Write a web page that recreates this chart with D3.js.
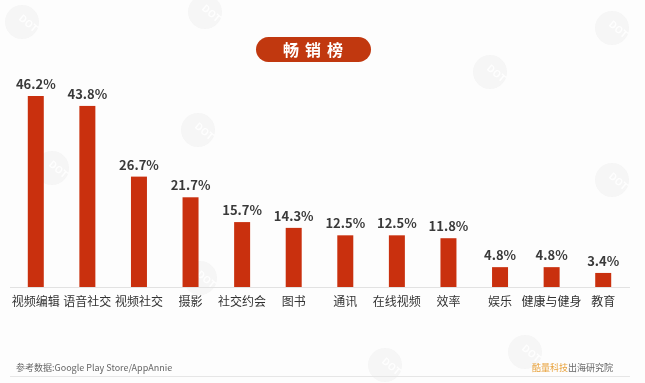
<!DOCTYPE html>
<html>
<head>
<meta charset="utf-8">
<script src="https://cdn.jsdelivr.net/npm/d3@7"></script>
<style>
  body { margin: 0; background: #fdfdfd; }
  svg { display: block; font-family: "Noto Sans CJK SC", "Noto Sans", sans-serif; }
</style>
</head>
<body>
<div id="chart"></div>
<script>
const categories = ['视频编辑', '语音社交', '视频社交', '摄影', '社交约会', '图书', '通讯', '在线视频', '效率', '娱乐', '健康与健身', '教育']
const shares = [46.2, 43.8, 26.7, 21.7, 15.7, 14.3, 12.5, 12.5, 11.8, 4.8, 4.8, 3.4]
const title = '畅销榜'
const source = '参考数据:Google Play Store/AppAnnie'

const width = 645, height = 383
const baseY = 287

const svg = d3.select('#chart').append('svg')
   .attr('width', width)
   .attr('height', height)

svg.append('rect').attr('width', width).attr('height', height).attr('fill', '#fdfdfd')

// faint watermarks
const marks = [[22, 22], [205, 12], [490, 72], [612, 28], [198, 130], [52, 168], [200, 278], [385, 365], [525, 352], [612, 180]]
const wm = svg.append('g').attr('opacity', 0.45)
marks.forEach(([x, y]) => {
   wm.append('circle').attr('cx', x).attr('cy', y).attr('r', 17).attr('fill', '#ececec')
   wm.append('text')
      .attr('transform', `translate(${x + 4},${y + 4}) rotate(40)`)
      .attr('font-size', 10).attr('font-weight', 700).attr('fill', '#fff')
      .attr('text-anchor', 'middle').text('DOT')
})

const x = d3.scaleBand()
   .domain(categories)
   .range([2, 637])
   .paddingInner(0.69)
   .paddingOuter(0.5)

const y = d3.scaleLinear()
   .domain([0, 46.2])
   .range([baseY, 96])

// baseline
svg.append('line')
   .attr('x1', 10).attr('x2', 630)
   .attr('y1', baseY + 0.5).attr('y2', baseY + 0.5)
   .attr('stroke', '#e2e2e2')

svg.selectAll('rect.bar')
   .data(shares)
   .enter()
   .append('rect')
   .attr('class', 'bar')
   .attr('x', (d, i) => x(categories[i]))
   .attr('y', d => y(d))
   .attr('width', x.bandwidth())
   .attr('height', d => baseY - y(d))
   .attr('fill', '#c9300e')

svg.selectAll('text.val')
   .data(shares)
   .enter()
   .append('text')
   .attr('class', 'val')
   .attr('x', (d, i) => x(categories[i]) + x.bandwidth() / 2)
   .attr('y', d => y(d) - 7)
   .attr('text-anchor', 'middle')
   .attr('font-size', 13)
   .attr('font-weight', 600)
   .attr('fill', '#3a3a3a')
   .text(d => d.toFixed(1) + '%')

svg.selectAll('text.cat')
   .data(categories)
   .enter()
   .append('text')
   .attr('class', 'cat')
   .attr('x', d => x(d) + x.bandwidth() / 2)
   .attr('y', 306)
   .attr('text-anchor', 'middle')
   .attr('font-size', 12)
   .attr('fill', '#333')
   .text(d => d)

// title pill
svg.append('rect')
   .attr('x', 256).attr('y', 37)
   .attr('width', 115).attr('height', 25)
   .attr('rx', 12.5)
   .attr('fill', '#c1380f')
svg.append('text')
   .attr('x', 316).attr('y', 55.5)
   .attr('text-anchor', 'middle')
   .attr('font-size', 16)
   .attr('font-weight', 700)
   .attr('letter-spacing', 6)
   .attr('fill', '#fff')
   .text(title)

// footer
svg.append('text')
   .attr('x', 16).attr('y', 371)
   .attr('font-size', 9)
   .attr('fill', '#666')
   .text(source)

const brand = svg.append('text')
   .attr('x', 613).attr('y', 371)
   .attr('text-anchor', 'end')
   .attr('font-size', 9)
brand.append('tspan').attr('fill', '#e8a23c').text('酷量科技')
brand.append('tspan').attr('fill', '#666').text('出海研究院')

svg.append('line')
   .attr('x1', 10).attr('x2', 630)
   .attr('y1', 376.5).attr('y2', 376.5)
   .attr('stroke', '#e6e6e6')
</script>
</body>
</html>
